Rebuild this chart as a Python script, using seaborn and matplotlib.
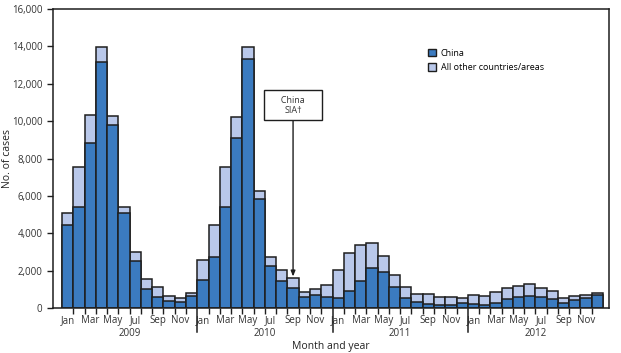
import matplotlib
import matplotlib.pyplot as plt
import matplotlib.transforms as mtransforms
from matplotlib.patches import Patch
import pandas as pd
import seaborn as sns

matplotlib.use('Agg')

# Monthly cases, Jan 2009 - Dec 2012
years = ['2009', '2010', '2011', '2012']
month_names = ['Jan', 'Feb', 'Mar', 'Apr', 'May', 'Jun',
               'Jul', 'Aug', 'Sep', 'Oct', 'Nov', 'Dec']

china = [4460, 5400, 8830, 13160, 9790, 5070, 2515, 1050, 620, 410, 360, 680,
         1490, 2765, 5400, 9100, 13330, 5830, 2265, 1460, 1070, 620, 700, 620,
         535, 935, 1460, 2175, 1945, 1125, 535, 340, 230, 180, 160, 300,
         240, 160, 300, 500, 625, 680, 605, 500, 300, 465, 535, 695]

total = [5080, 7580, 10350, 13970, 10290, 5440, 3015, 1550, 1160, 660, 570, 840,
         2590, 4480, 7530, 10220, 13970, 6280, 2765, 2050, 1605, 890, 1035, 1230,
         2050, 2980, 3370, 3495, 2820, 1780, 1160, 785, 750, 625, 625, 560,
         713, 660, 855, 1070, 1195, 1285, 1070, 910, 553, 640, 695, 820]

dark_blue = '#3b7bc0'
light_blue = '#b9c8ea'
edge = '#1e1e1e'


def create_cases_barplot(output_file_path):
    months = [f'{m} {y}' for y in years for m in month_names]
    df = pd.DataFrame({'month': months, 'china': china, 'total': total})

    plt.rcParams['font.family'] = ['Open Sans', 'DejaVu Sans']
    fig = plt.figure(figsize=(6.21, 3.53), dpi=100)
    ax = fig.add_axes([0.0853, 0.1266, 0.8954, 0.8479])

    # stacked bars: total underneath, China on top of it
    sns.barplot(data=df, x='month', y='total', order=months, color=light_blue,
                saturation=1, width=1.0, edgecolor=edge, linewidth=1.1, ax=ax)
    sns.barplot(data=df, x='month', y='china', order=months, color=dark_blue,
                saturation=1, width=1.0, edgecolor=edge, linewidth=1.1, ax=ax)

    ax.set_xlim(-1.3, 48.03)
    ax.set_ylim(0, 16000)
    ax.set_yticks(range(0, 16001, 2000))
    ax.set_yticklabels([f'{v:,}' for v in range(0, 16001, 2000)])

    # ticks at bar boundaries, labels under every other month
    boundaries = [i + 0.5 for i in range(len(months) - 1) if (i + 1) % 12 != 0]
    ax.set_xticks(boundaries)
    ax.set_xticklabels([])
    label_pos = [i for i in range(len(months)) if i % 2 == 0]
    ax.set_xticks(label_pos, minor=True)
    ax.set_xticklabels([month_names[i % 12] for i in label_pos], minor=True)
    ax.tick_params(axis='x', which='major', length=4, width=1.0, color=edge)
    ax.tick_params(axis='x', which='minor', length=0, pad=5, labelsize=7,
                   labelcolor='#333333')
    ax.tick_params(axis='y', length=4, width=1.0, color=edge, labelsize=7,
                   labelcolor='#333333')

    for s in ax.spines.values():
        s.set_linewidth(1.1)
        s.set_color(edge)

    # year separators and year labels
    trans = mtransforms.blended_transform_factory(ax.transData, ax.transAxes)
    for k in range(1, len(years)):
        x = 12 * k - 0.5
        ax.plot([x, x], [0, -0.08], transform=trans, color=edge, lw=1.1,
                clip_on=False)
    for k, y in enumerate(years):
        ax.text(12 * k + 5.5, -0.085, y, transform=trans, ha='center', va='center',
                fontsize=7, color='#333333')

    ax.set_xlabel('Month and year', fontsize=7.5, color='#222222')
    ax.xaxis.set_label_coords(0.5, -0.11)
    ax.set_ylabel('No. of cases', fontsize=7.5, color='#222222')
    ax.yaxis.set_label_coords(-0.072, 0.5)

    handles = [Patch(facecolor=dark_blue, edgecolor=edge, linewidth=1.0, label='China'),
               Patch(facecolor=light_blue, edgecolor=edge, linewidth=1.0,
                     label='All other countries/areas')]
    ax.legend(handles=handles, loc='upper left', bbox_to_anchor=(0.668, 0.88),
              frameon=False, fontsize=6.5, handlelength=0.9, handleheight=0.9,
              handletextpad=0.5, labelspacing=0.6, borderaxespad=0)

    ax.annotate('     China     \nSIA\u2020', xy=(20, 1700), xytext=(20, 10850),
                ha='center', va='center', fontsize=6.5, color='#333333',
                bbox=dict(boxstyle='square,pad=0.6', fc='white', ec=edge, lw=1.0),
                arrowprops=dict(arrowstyle='-|>,head_length=0.5,head_width=0.2',
                                color=edge, lw=1.0, shrinkA=0, shrinkB=0))

    plt.savefig(output_file_path, dpi=100)
    plt.close()


if __name__ == '__main__':
    create_cases_barplot('out.png')
